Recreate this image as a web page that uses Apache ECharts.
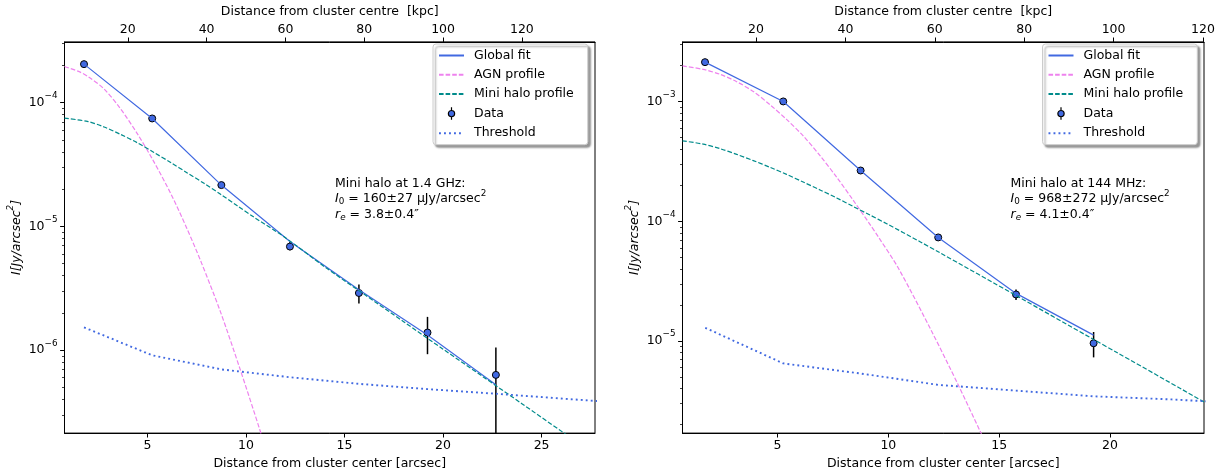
<!DOCTYPE html>
<html>
<head>
<meta charset="utf-8">
<script src="https://cdn.jsdelivr.net/npm/echarts@6.0.0/dist/echarts.min.js"></script>
<style>
html, body { margin: 0; background: #fff; }
#chart { width: 1225px; height: 475px; }
</style>
</head>
<body>
<div id="chart"></div>
<script>
// ---------- left panel (1.4 GHz) ----------
const xL = [1.78, 5.24, 8.75, 12.23, 15.73, 19.21, 22.68];
const dataL = [2.05e-4, 7.46e-5, 2.16e-5, 6.88e-6, 2.90e-6, 1.39e-6, 6.32e-7];
const errLoL = [2.0e-4, 7.3e-5, 2.11e-5, 6.43e-6, 2.39e-6, 9.29e-7, 1e-8];
const errHiL = [2.1e-4, 7.6e-5, 2.21e-5, 7.49e-6, 3.40e-6, 1.86e-6, 1.05e-6];
const fitL = [2.05e-4, 7.46e-5, 2.16e-5, 7.55e-6, 3.08e-6, 1.33e-6, 5.27e-7];

const agnXL = [0.79, 1.5, 2.0, 2.8, 3.6, 4.5, 5.3, 6.2, 7.0, 7.7, 8.7, 9.7, 10.7, 11.2];
const agnL = [1.96e-4, 1.79e-4, 1.62e-4, 1.29e-4, 9.08e-5, 5.57e-5, 3.39e-5, 1.82e-5, 9.64e-6, 5.27e-6, 2.05e-6, 7.03e-7, 2.28e-7, 1.26e-7];

const mhXL = [0.79, 1.95, 2.8, 3.64, 4.48, 5.33, 6.18, 7.02, 7.87, 8.71, 9.56, 10.4, 11.93, 14, 16, 18, 20, 22, 24, 26, 27.71];
const mhL = [7.5e-5, 7.06e-5, 6.37e-5, 5.54e-5, 4.75e-5, 3.96e-5, 3.29e-5, 2.71e-5, 2.23e-5, 1.82e-5, 1.47e-5, 1.19e-5, 8.26e-6, 4.71e-6, 2.83e-6, 1.70e-6, 1.02e-6, 6.15e-7, 3.70e-7, 2.22e-7, 1.45e-7];

const thrXL = [1.78, 5.24, 8.75, 12.23, 15.73, 19.21, 22.68, 26.2, 29.7];
const thrL = [1.53e-6, 9.1e-7, 7.0e-7, 6.05e-7, 5.35e-7, 4.85e-7, 4.45e-7, 4.05e-7, 3.7e-7];

// ---------- right panel (144 MHz) ----------
const xR = [1.73, 5.26, 8.75, 12.25, 15.76, 19.26];
const dataR = [2.14e-3, 1.005e-3, 2.66e-4, 7.34e-5, 2.45e-5, 9.58e-6];
const errLoR = [2.11e-3, 0.99e-3, 2.62e-4, 7.15e-5, 2.20e-5, 7.3e-6];
const errHiR = [2.17e-3, 1.02e-3, 2.70e-4, 7.55e-5, 2.70e-5, 1.19e-5];
const fitR = [2.14e-3, 1.005e-3, 2.66e-4, 7.34e-5, 2.5e-5, 1.12e-5];

const agnXR = [0.715, 1.65, 2.41, 3.16, 3.91, 4.66, 5.41, 6.16, 6.92, 7.67, 8.42, 9.17, 9.55, 10.45, 11.96, 13.16, 14.13, 14.6];
const agnR = [1.99e-3, 1.862e-3, 1.694e-3, 1.469e-3, 1.216e-3, 9.44e-4, 7.11e-4, 5.18e-4, 3.54e-4, 2.34e-4, 1.496e-4, 9.44e-5, 7.41e-5, 4.07e-5, 1.20e-5, 4.27e-6, 1.78e-6, 1.15e-6];

const mhXR = [0.715, 1.65, 2.41, 3.16, 3.91, 4.66, 5.41, 6.16, 6.92, 7.67, 8.42, 9.17, 9.93, 11.43, 12.25, 15.76, 19.26, 20.31, 24.24];
const mhR = [4.71e-4, 4.42e-4, 4.05e-4, 3.63e-4, 3.22e-4, 2.83e-4, 2.47e-4, 2.13e-4, 1.83e-4, 1.57e-4, 1.33e-4, 1.13e-4, 9.55e-5, 6.76e-5, 5.57e-5, 2.40e-5, 1.03e-5, 8.02e-6, 3.10e-6];

const thrXR = [1.74, 5.26, 8.75, 12.25, 15.76, 19.26, 22.77, 26.27];
const thrR = [1.29e-5, 6.5e-6, 5.35e-6, 4.3e-6, 3.85e-6, 3.45e-6, 3.25e-6, 3.0e-6];

// ---------- ticks ----------
const arcTicksL = [5, 10, 15, 20, 25];
const arcTicksR = [5, 10, 15, 20];
const kpcTicks = [20, 40, 60, 80, 100, 120];
const majorL = [1e-6, 1e-5, 1e-4];
const minorL = [3e-7, 4e-7, 5e-7, 6e-7, 7e-7, 8e-7, 9e-7,
  2e-6, 3e-6, 4e-6, 5e-6, 6e-6, 7e-6, 8e-6, 9e-6,
  2e-5, 3e-5, 4e-5, 5e-5, 6e-5, 7e-5, 8e-5, 9e-5, 2e-4, 3e-4];
const majorR = [1e-5, 1e-4, 1e-3];
const minorR = [2e-6, 3e-6, 4e-6, 5e-6, 6e-6, 7e-6, 8e-6, 9e-6,
  2e-5, 3e-5, 4e-5, 5e-5, 6e-5, 7e-5, 8e-5, 9e-5,
  2e-4, 3e-4, 4e-4, 5e-4, 6e-4, 7e-4, 8e-4, 9e-4, 2e-3, 3e-3];

const FONT = 'DejaVu Sans';
const FS = 12.5;
const BLUE = '#4169e1';
const VIOLET = '#ee82ee';
const TEAL = '#008b8b';

const supRich = {
  b: { fontSize: FS, fontFamily: FONT, color: '#000', verticalAlign: 'middle' },
  sup: { fontSize: 8.8, fontFamily: FONT, color: '#000', verticalAlign: 'middle', padding: [0, 0, 14, 0] }
};
const annRich = {
  i: { fontSize: FS, fontFamily: FONT, fontStyle: 'italic', verticalAlign: 'middle' },
  sub: { fontSize: 8.8, fontFamily: FONT, verticalAlign: 'middle', padding: [6, 0, 0, 0] },
  subi: { fontSize: 8.8, fontFamily: FONT, fontStyle: 'italic', verticalAlign: 'middle', padding: [6, 0, 0, 0] },
  sup: { fontSize: 8.8, fontFamily: FONT, verticalAlign: 'middle', padding: [0, 0, 10, 0] }
};

function xAxisBottom(gi, min, max, ticks) {
  return {
    type: 'value', gridIndex: gi, position: 'bottom', min: min, max: max,
    name: 'Distance from cluster center [arcsec]', nameLocation: 'middle', nameGap: 19,
    nameTextStyle: { fontSize: FS, fontFamily: FONT, color: '#000' },
    axisLine: { show: true, onZero: false, lineStyle: { color: '#000', width: 1 } },
    axisTick: { show: true, length: 4.4, customValues: ticks, lineStyle: { color: '#000', width: 1 } },
    axisLabel: { margin: 6, fontSize: FS, fontFamily: FONT, color: '#000', customValues: ticks },
    splitLine: { show: false }
  };
}
function xAxisTop(gi, min, max) {
  return {
    type: 'value', gridIndex: gi, position: 'top', min: min, max: max,
    name: 'Distance from cluster centre  [kpc]', nameLocation: 'middle', nameGap: 15,
    nameTextStyle: { fontSize: FS, fontFamily: FONT, color: '#000' },
    axisLine: { show: true, onZero: false, lineStyle: { color: '#000', width: 1 } },
    axisTick: { show: true, length: 4.4, customValues: kpcTicks, lineStyle: { color: '#000', width: 1 } },
    axisLabel: { margin: 6, fontSize: FS, fontFamily: FONT, color: '#000', customValues: kpcTicks },
    splitLine: { show: false }
  };
}
function yAxisMajor(gi, min, max, ticks) {
  return {
    type: 'log', logBase: 10, gridIndex: gi, position: 'left', min: min, max: max,
    name: '{it|I[Jy/arcsec}{sup|2}{it|]}', nameLocation: 'middle', nameGap: 38, nameRotate: 90,
    nameTextStyle: {
      fontSize: FS, fontFamily: FONT, color: '#000',
      rich: {
        it: { fontSize: FS, fontFamily: FONT, fontStyle: 'italic', color: '#000', verticalAlign: 'middle' },
        sup: { fontSize: 8.8, fontFamily: FONT, fontStyle: 'italic', color: '#000', verticalAlign: 'middle', padding: [0, 0, 11, 0] }
      }
    },
    axisLine: { show: true, lineStyle: { color: '#000', width: 1 } },
    axisTick: { show: true, length: 4.4, customValues: ticks, lineStyle: { color: '#000', width: 1 } },
    axisLabel: {
      margin: 7, fontSize: FS, fontFamily: FONT, color: '#000', customValues: ticks,
      formatter: function (v) { return '{b|10}{sup|\u2212' + Math.round(-Math.log10(v)) + '}'; },
      rich: supRich
    },
    splitLine: { show: false }
  };
}
function yAxisMinor(gi, min, max, ticks) {
  return {
    type: 'log', logBase: 10, gridIndex: gi, position: 'left', min: min, max: max,
    axisLine: { show: false },
    axisTick: { show: true, length: 2.5, customValues: ticks, lineStyle: { color: '#000', width: 0.75 } },
    axisLabel: { show: false },
    splitLine: { show: false }
  };
}

function pairs(xs, ys) { return xs.map(function (x, i) { return [x, ys[i]]; }); }

function lineSeries(name, gi, xs, ys, color, width, dash, smooth) {
  return {
    type: 'line', name: name, xAxisIndex: gi * 2, yAxisIndex: gi * 2,
    data: pairs(xs, ys), symbol: 'none', showSymbol: false, clip: true,
    smooth: smooth || false,
    lineStyle: { color: color, width: width, type: dash || 'solid' },
    itemStyle: { color: color }
  };
}
function errSeries(gi, xs, lo, hi) {
  return {
    type: 'custom', xAxisIndex: gi * 2, yAxisIndex: gi * 2, clip: true,
    data: xs.map(function (x, i) { return [x, lo[i], hi[i]]; }),
    encode: { x: 0, y: [1, 2] },
    renderItem: function (params, api) {
      const a = api.coord([api.value(0), api.value(1)]);
      const b = api.coord([api.value(0), api.value(2)]);
      return { type: 'line', shape: { x1: a[0], y1: a[1], x2: b[0], y2: b[1] }, style: { stroke: '#000', lineWidth: 1.5 } };
    }
  };
}
function dataSeries(gi, xs, ys) {
  return {
    type: 'scatter', name: 'Data', xAxisIndex: gi * 2, yAxisIndex: gi * 2,
    data: pairs(xs, ys), symbol: 'circle', symbolSize: 7,
    itemStyle: { color: BLUE, borderColor: '#000', borderWidth: 1, opacity: 1 }
  };
}
function panelSeries(gi, xs, data, lo, hi, fit, agnX, agn, mhX, mh, thrX, thr) {
  return [
    lineSeries('Global fit', gi, xs, fit, BLUE, 1.2),
    lineSeries('AGN profile', gi, agnX, agn, VIOLET, 1.2, [4.6, 2], 0.3),
    lineSeries('Mini halo profile', gi, mhX, mh, TEAL, 1.2, [4.6, 2], 0.3),
    errSeries(gi, xs, lo, hi),
    dataSeries(gi, xs, data),
    lineSeries('Threshold', gi, thrX, thr, BLUE, 1.9, [1.9, 3.1])
  ];
}
function legendAt(left) {
  const noMark = { opacity: 0 };
  return {
    orient: 'vertical', left: left, top: 44,
    itemWidth: 25, itemHeight: 12.5, itemGap: 6.25,
    padding: [5, 14, 5, 5],
    backgroundColor: '#fff', borderColor: '#cccccc', borderWidth: 1, borderRadius: 3,
    shadowColor: 'rgba(0,0,0,0.4)', shadowBlur: 2, shadowOffsetX: 2.5, shadowOffsetY: 2.5,
    selectedMode: false,
    textStyle: { fontSize: FS, fontFamily: FONT, color: '#000', padding: [0, 0, 0, 5] },
    data: [
      { name: 'Global fit', itemStyle: noMark },
      { name: 'AGN profile', itemStyle: noMark },
      { name: 'Mini halo profile', itemStyle: noMark },
      {
        name: 'Data',
        icon: 'path://M4,0L4,3.5M4,10.5L4,14M0.5,7A3.5,3.5,0,1,1,7.5,7A3.5,3.5,0,1,1,0.5,7Z',
        itemStyle: { color: BLUE, borderColor: '#000', borderWidth: 1.2, opacity: 1 }
      },
      { name: 'Threshold', itemStyle: noMark }
    ]
  };
}
function annotation(x, lines) {
  const ys = [183.5, 199, 214.5];
  return lines.map(function (t, i) {
    return {
      type: 'text', x: x, y: ys[i], silent: true,
      style: { text: t, fontSize: FS, fontFamily: FONT, fill: '#000', verticalAlign: 'middle', rich: annRich }
    };
  });
}

const chart = echarts.init(document.getElementById('chart'), null, { renderer: 'canvas' });
chart.setOption({
  animation: false,
  backgroundColor: '#fff',
  grid: [
    { left: 64.5, right: 630, top: 38.3, bottom: 39, show: true, borderColor: '#000', borderWidth: 1 },
    { left: 682.5, right: 21, top: 39.3, bottom: 39, show: true, borderColor: '#000', borderWidth: 1 }
  ],
  xAxis: [
    xAxisBottom(0, 0.79, 27.71, arcTicksL),
    xAxisTop(0, 0.79 * 5, 27.71 * 5),
    xAxisBottom(1, 0.715, 24.24, arcTicksR),
    xAxisTop(1, 0.715 * 4.96, 24.24 * 4.96)
  ],
  yAxis: [
    yAxisMajor(0, 2.14e-7, 3.10e-4, majorL),
    yAxisMinor(0, 2.14e-7, 3.10e-4, minorL),
    yAxisMajor(1, 1.70e-6, 3.16e-3, majorR),
    yAxisMinor(1, 1.70e-6, 3.16e-3, minorR)
  ],
  legend: [legendAt(433), legendAt(1042.5)],
  graphic: annotation(335, [
    'Mini halo at 1.4 GHz:',
    '{i|I}{sub|0} = 160\u00b127 \u03bcJy/arcsec{sup|2}',
    '{i|r}{subi|e} = 3.8\u00b10.4\u2033'
  ]).concat(annotation(1010.5, [
    'Mini halo at 144 MHz:',
    '{i|I}{sub|0} = 968\u00b1272 \u03bcJy/arcsec{sup|2}',
    '{i|r}{subi|e} = 4.1\u00b10.4\u2033'
  ])),
  series: panelSeries(0, xL, dataL, errLoL, errHiL, fitL, agnXL, agnL, mhXL, mhL, thrXL, thrL)
    .concat(panelSeries(1, xR, dataR, errLoR, errHiR, fitR, agnXR, agnR, mhXR, mhR, thrXR, thrR))
});
</script>
</body>
</html>
